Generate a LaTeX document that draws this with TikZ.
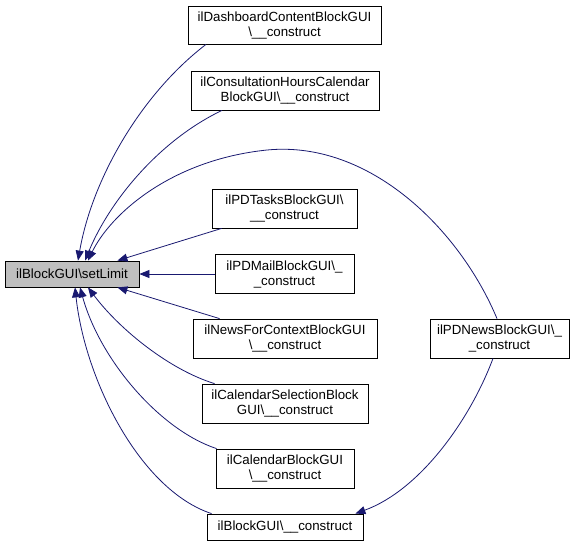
\documentclass[tikz,border=0pt]{standalone}
\usepackage{fontspec}
\setmainfont{Liberation Sans}
\usetikzlibrary{arrows.meta,calc}
\definecolor{edgec}{HTML}{191970}
\definecolor{selfill}{HTML}{BFBFBF}
\begin{document}
\begin{tikzpicture}[x=1pt,y=-1pt,
  box/.style={draw=black, line width=0.8pt, inner sep=0pt, align=center, fill=white,
    font=\fontsize{13.3}{15}\selectfont},
  edge/.style={draw=edgec, line width=0.8pt, {Triangle[length=10pt,width=8pt]}-},
  fedge/.style={draw=edgec, line width=0.8pt, -{Triangle[length=10pt,width=8pt]}}]
\useasboundingbox (0,0) rectangle (585,547);
\node[box, fill=selfill, minimum width=134pt, minimum height=26pt] (sl) at (72,274) {ilBlockGUI\textbackslash setLimit};
\node[box, minimum width=193pt, minimum height=38pt] (dash) at (284.5,25) {ilDashboardContentBlockGUI\\\textbackslash\_\_construct};
\node[box, minimum width=188pt, minimum height=39pt] (cons) at (285,90.5) {ilConsultationHoursCalendar\\BlockGUI\textbackslash\_\_construct};
\node[box, minimum width=145pt, minimum height=39pt] (tasks) at (284.5,208.5) {ilPDTasksBlockGUI\textbackslash\\\_\_construct};
\node[box, minimum width=139pt, minimum height=39pt] (mail) at (284.5,274) {ilPDMailBlockGUI\textbackslash\_\\\_construct};
\node[box, minimum width=184pt, minimum height=39pt] (news) at (285,338.5) {ilNewsForContextBlockGUI\\\textbackslash\_\_construct};
\node[box, minimum width=166pt, minimum height=39pt] (calsel) at (285,403.5) {ilCalendarSelectionBlock\\GUI\textbackslash\_\_construct};
\node[box, minimum width=138pt, minimum height=39pt] (cal) at (285,468.5) {ilCalendarBlockGUI\\\textbackslash\_\_construct};
\node[box, minimum width=156pt, minimum height=26pt] (bc) at (285,527) {ilBlockGUI\textbackslash\_\_construct};
\node[box, minimum width=139pt, minimum height=39pt] (pdn) at (499.5,338.5) {ilPDNewsBlockGUI\textbackslash\_\\\_construct};

\draw[edge] ([xshift=6pt]sl.north) .. controls (92,180) and (140,95) .. ([xshift=-78.5pt]dash.south);
\draw[edge] ([xshift=13pt]sl.north) .. controls (110,200) and (160,140) .. ([xshift=-63pt]cons.south);
\draw[edge] ([xshift=16pt]sl.north) .. controls (110,215) and (170,160) .. (267,150)
  .. controls (370,140) and (460,230) .. ([xshift=-2.5pt]pdn.north);
\draw[edge] ([xshift=-22pt]sl.north east) -- ([xshift=10pt]tasks.south west);
\draw[edge] (sl.east) -- (mail.west);
\draw[edge] ([xshift=-22pt]sl.south east) -- ([xshift=27pt]news.north west);
\draw[edge] ([xshift=16pt]sl.south) .. controls (120,330) and (170,370) .. ([xshift=13pt]calsel.north west);
\draw[edge] ([xshift=8pt]sl.south) .. controls (100,360) and (160,430) .. ([xshift=1pt]cal.north west);
\draw[edge] ([xshift=3pt]sl.south) .. controls (85,380) and (140,490) .. ([xshift=5pt]bc.north west);
\draw[fedge] ([xshift=-6.5pt]pdn.south) .. controls (470,420) and (420,490) .. ([xshift=-8pt]bc.north east);
\end{tikzpicture}
\end{document}
